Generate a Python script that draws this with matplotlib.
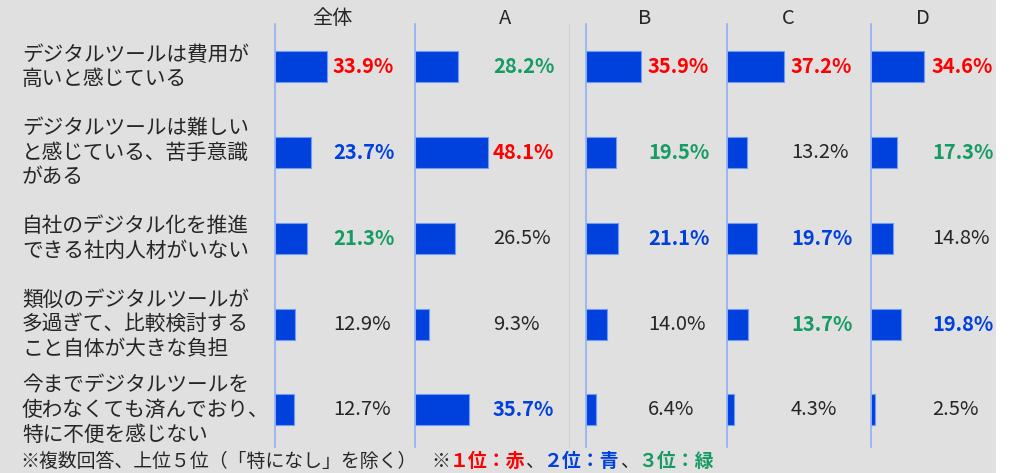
import matplotlib.pyplot as plt
from matplotlib.patches import Rectangle

plt.rcParams['font.family'] = ['Noto Sans CJK JP', 'DejaVu Sans']

categories = [
    "デジタルツールは費用が\n高いと感じている",
    "デジタルツールは難しい\nと感じている、苦手意識\nがある",
    "自社のデジタル化を推進\nできる社内人材がいない",
    "類似のデジタルツールが\n多過ぎて、比較検討する\nこと自体が大きな負担",
    "今までデジタルツールを\n使わなくても済んでおり、\n特に不便を感じない",
]
groups = ["全体", "A", "B", "C", "D"]
zentai = [33.9, 23.7, 21.3, 12.9, 12.7]
group_a = [28.2, 48.1, 26.5, 9.3, 35.7]
group_b = [35.9, 19.5, 21.1, 14.0, 6.4]
group_c = [37.2, 13.2, 19.7, 13.7, 4.3]
group_d = [34.6, 17.3, 14.8, 19.8, 2.5]
values = [zentai, group_a, group_b, group_c, group_d]

# layout in pixels (figure 1015x473)
W, H = 1015, 473
axis_x = [275, 415, 586, 727, 871]
axis_w = [140, 154, 141, 144, 125]
label_x = [333, 493, 648, 791, 932]
header_x = [332, 505, 645, 788, 923]
top_px, bot_px = 24, 447
row_px = 85.75
px_per_pct = 1.52

BAR = '#0040DC'
rank_colors = ['#FF0000', '#0040DC', '#169B62']
TXT = '#262626'


def fx(x):
    return x / W


def fy(y):
    return 1 - y / H


fig = plt.figure(figsize=(W / 100, H / 100), dpi=100, facecolor='white')
fig.patches.append(Rectangle((0, 0), fx(996), 1, transform=fig.transFigure,
                             facecolor='#E0E0E0', edgecolor='none', zorder=-10))

# thin separator between A and B
fig.add_artist(plt.Line2D([fx(569), fx(569)], [fy(top_px), fy(bot_px)],
                          transform=fig.transFigure, color='#CFCFCF', lw=0.8))

ylim_bottom = -0.5 + (bot_px - top_px) / row_px

for i, vals in enumerate(values):
    ax = fig.add_axes([fx(axis_x[i]), fy(bot_px), fx(axis_w[i]), (bot_px - top_px) / H])
    ax.patch.set_alpha(0)
    ax.set_xlim(0, axis_w[i] / px_per_pct)
    ax.set_ylim(ylim_bottom, -0.5)
    ax.barh(range(len(vals)), vals, height=0.36, color=BAR,
            edgecolor='#6E9BF5', linewidth=0.8)
    for s in ['top', 'right', 'bottom']:
        ax.spines[s].set_visible(False)
    ax.spines['left'].set_color('#8FB0F5')
    ax.spines['left'].set_linewidth(1.2)
    ax.set_xticks([])
    ax.set_yticks([])

    order = sorted(range(len(vals)), key=lambda k: -vals[k])
    lx = (label_x[i] - axis_x[i]) / px_per_pct
    for j, v in enumerate(vals):
        r = order.index(j)
        if r < 3:
            c, w = rank_colors[r], 'bold'
        else:
            c, w = TXT, 'normal'
        ax.text(lx, j, f"{v:.1f}%", color=c, fontweight=w, fontsize=14.5,
                va='center', ha='left')

    fig.text(fx(header_x[i]), fy(18), groups[i], ha='center', va='center',
             fontsize=14.5, color=TXT)

for j, cat in enumerate(categories):
    yc = top_px + row_px * (j + 0.5)
    fig.text(fx(22), fy(yc), cat, ha='left', va='center', fontsize=14.9,
             color=TXT, linespacing=1.15)

# footnote
fy_note = fy(461)
fig.text(fx(20), fy_note, "※複数回答、上位５位（「特になし」を除く）",
         ha='left', va='center', fontsize=13.6, color=TXT)
parts = [("※", TXT, 'normal'), ("１位：赤", '#FF0000', 'bold'), ("、", TXT, 'normal'),
         ("２位：青", '#0040DC', 'bold'), ("、", TXT, 'normal'),
         ("３位：緑", '#169B62', 'bold')]
fig.canvas.draw()
renderer = fig.canvas.get_renderer()
xpos = fx(431)
for t, c, w in parts:
    txt = fig.text(xpos, fy_note, t, ha='left', va='center', fontsize=13.6,
                   color=c, fontweight=w)
    bb = txt.get_window_extent(renderer=renderer)
    xpos += bb.width / W

fig.savefig('out.png', dpi=100, facecolor=fig.get_facecolor())
